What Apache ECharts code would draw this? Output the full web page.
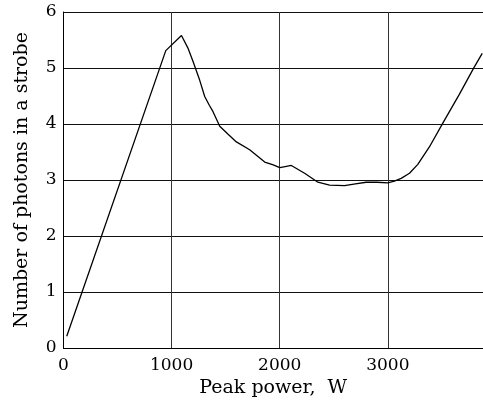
<!DOCTYPE html>
<html><head><meta charset="utf-8">
<script src="https://cdn.jsdelivr.net/npm/echarts@6/dist/echarts.min.js"></script>
<style>html,body{margin:0;padding:0;background:#fff}#c{width:483px;height:403px}</style>
</head><body><div id="c"></div>
<script>
const peakPower = [30, 946, 1091, 1150, 1199, 1260, 1306, 1350, 1383, 1445, 1520, 1599, 1722, 1861, 1940, 2000, 2050, 2107, 2230, 2353, 2461, 2599, 2700, 2800, 2900, 2999, 3060, 3123, 3200, 3277, 3384, 3507, 3661, 3800, 3873];
const photons   = [0.21, 5.31, 5.58, 5.36, 5.11, 4.78, 4.49, 4.33, 4.22, 3.96, 3.82, 3.68, 3.54, 3.32, 3.27, 3.22, 3.24, 3.26, 3.12, 2.96, 2.91, 2.90, 2.93, 2.96, 2.96, 2.95, 2.98, 3.03, 3.12, 3.28, 3.59, 4.01, 4.53, 5.02, 5.26];
const xTitle = 'Peak power,  W';
const yTitle = 'Number of photons in a strobe';

const font = 'DejaVu Serif';
const chart = echarts.init(document.getElementById('c'));
chart.setOption({
  animation: false,
  grid: {left: 63.5, top: 12, right: 0, bottom: 55},
  xAxis: {
    type: 'value', min: 0, max: 3880, interval: 1000,
    name: xTitle, nameLocation: 'middle', nameGap: 30,
    nameTextStyle: {fontFamily: font, fontSize: 19, color: '#000'},
    axisLine: {show: true, lineStyle: {color: '#000', width: 1}},
    axisTick: {show: false},
    axisLabel: {fontFamily: font, fontSize: 17, color: '#000', margin: 9, showMaxLabel: false,
      formatter: v => String(v)},
    splitLine: {show: true, lineStyle: {color: '#333', width: 1}}
  },
  yAxis: {
    type: 'value', min: 0, max: 6, interval: 1,
    name: yTitle, nameLocation: 'middle', nameGap: 32,
    nameTextStyle: {fontFamily: font, fontSize: 19, color: '#000'},
    axisLine: {show: true, lineStyle: {color: '#000', width: 1}},
    axisTick: {show: false},
    axisLabel: {fontFamily: font, fontSize: 17, color: '#000', margin: 7},
    splitLine: {show: true, lineStyle: {color: '#111', width: 1}}
  },
  series: [{
    type: 'line', data: peakPower.map((x, i) => [x, photons[i]]),
    showSymbol: false, smooth: false,
    lineStyle: {color: '#000', width: 1.3}
  }]
});
</script></body></html>
